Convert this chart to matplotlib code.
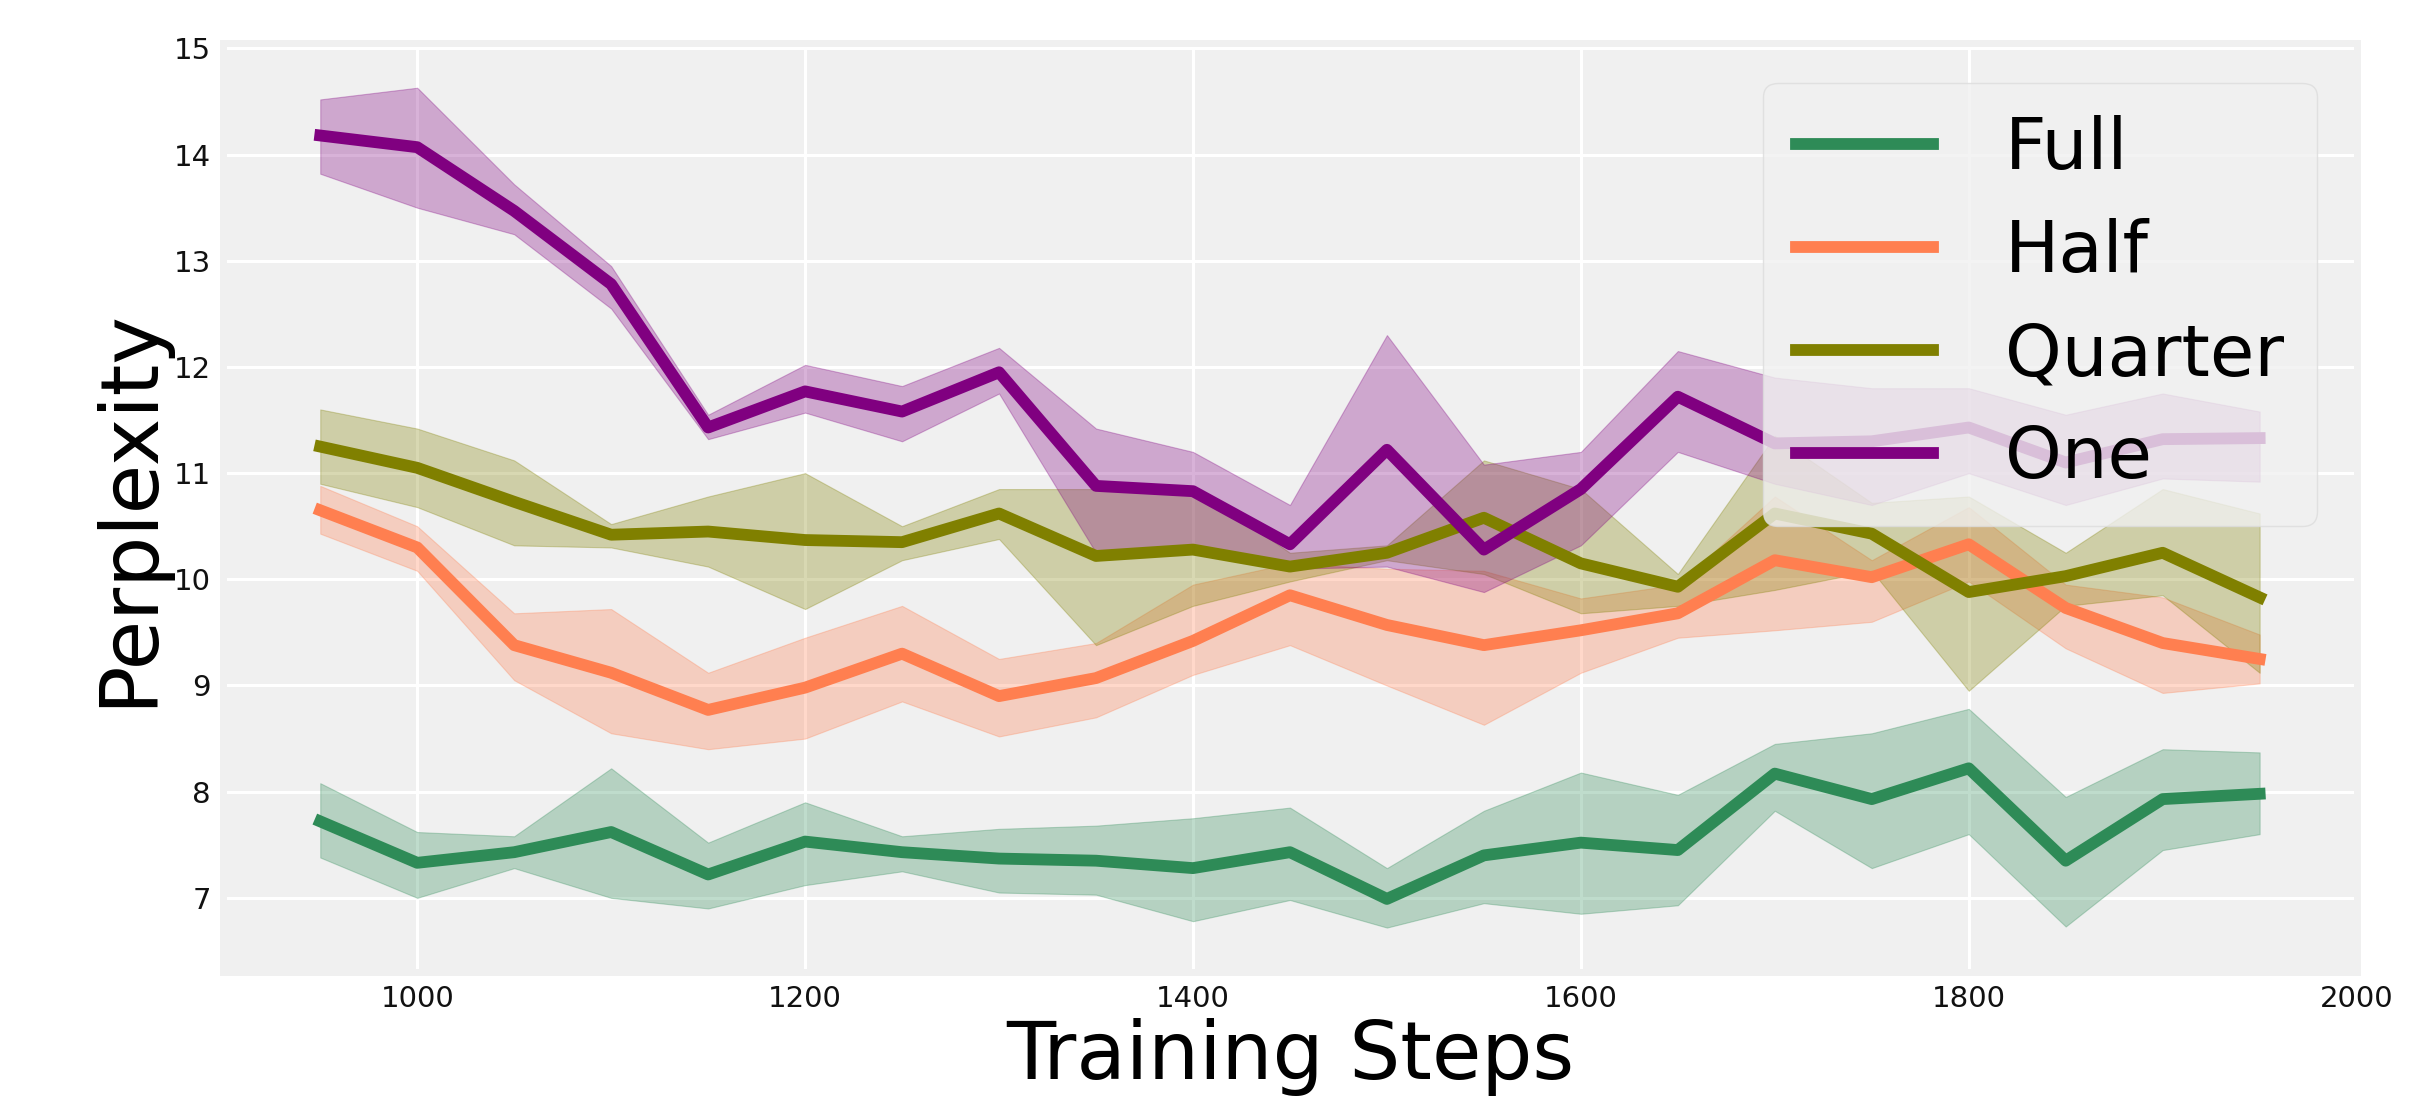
import numpy as np
import matplotlib
matplotlib.use("Agg")
import matplotlib.pyplot as plt

steps = [950, 1000, 1050, 1100, 1150, 1200, 1250, 1300, 1350, 1400, 1450,
         1500, 1550, 1600, 1650, 1700, 1750, 1800, 1850, 1900, 1950]

full_mean = [7.72, 7.33, 7.43, 7.62, 7.22, 7.53, 7.43, 7.37, 7.35, 7.28, 7.43,
             6.99, 7.40, 7.52, 7.45, 8.17, 7.93, 8.22, 7.35, 7.93, 7.98]
full_hi = [8.08, 7.62, 7.58, 8.22, 7.52, 7.90, 7.58, 7.65, 7.68, 7.75, 7.85,
           7.28, 7.82, 8.18, 7.97, 8.45, 8.55, 8.78, 7.95, 8.40, 8.37]
full_lo = [7.38, 7.00, 7.28, 7.00, 6.90, 7.12, 7.25, 7.05, 7.03, 6.78, 6.98,
           6.72, 6.95, 6.85, 6.93, 7.82, 7.28, 7.60, 6.73, 7.45, 7.60]

half_mean = [10.65, 10.30, 9.38, 9.12, 8.77, 8.98, 9.30, 8.90, 9.07, 9.42, 9.85,
             9.57, 9.38, 9.52, 9.68, 10.18, 10.02, 10.33, 9.73, 9.40, 9.25]
half_hi = [10.88, 10.50, 9.68, 9.72, 9.12, 9.45, 9.75, 9.25, 9.40, 9.95, 10.15,
           10.10, 10.08, 9.82, 9.95, 10.78, 10.18, 10.68, 9.95, 9.83, 9.48]
half_lo = [10.43, 10.08, 9.05, 8.55, 8.40, 8.50, 8.85, 8.52, 8.70, 9.10, 9.38,
           9.00, 8.63, 9.12, 9.45, 9.52, 9.60, 9.98, 9.35, 8.93, 9.02]

quarter_mean = [11.25, 11.05, 10.73, 10.42, 10.45, 10.37, 10.35, 10.62, 10.22, 10.28, 10.12,
                10.25, 10.58, 10.15, 9.93, 10.62, 10.43, 9.88, 10.03, 10.25, 9.83]
quarter_hi = [11.60, 11.42, 11.12, 10.52, 10.78, 11.00, 10.50, 10.85, 10.85, 10.88, 10.25,
              10.32, 11.12, 10.85, 10.05, 11.35, 10.72, 10.78, 10.25, 10.85, 10.62]
quarter_lo = [10.90, 10.68, 10.32, 10.30, 10.12, 9.72, 10.18, 10.38, 9.38, 9.75, 9.98,
              10.18, 10.05, 9.68, 9.75, 9.90, 10.08, 8.95, 9.75, 9.85, 9.12]

one_mean = [14.18, 14.07, 13.47, 12.78, 11.43, 11.77, 11.58, 11.95, 10.88, 10.83, 10.33,
            11.22, 10.28, 10.85, 11.72, 11.28, 11.30, 11.43, 11.10, 11.32, 11.33]
one_hi = [14.52, 14.63, 13.72, 12.95, 11.55, 12.02, 11.82, 12.18, 11.42, 11.20, 10.70,
          12.30, 11.08, 11.20, 12.15, 11.90, 11.80, 11.80, 11.55, 11.75, 11.58]
one_lo = [13.82, 13.50, 13.25, 12.55, 11.32, 11.57, 11.30, 11.75, 10.25, 10.28, 10.10,
          10.12, 9.88, 10.32, 11.20, 10.90, 10.70, 11.00, 10.70, 10.95, 10.92]

labels = ["Full", "Half", "Quarter", "One"]
colors = ["#2e8b57", "#ff7f50", "#808000", "#800080"]

series = [(full_mean, full_lo, full_hi),
          (half_mean, half_lo, half_hi),
          (quarter_mean, quarter_lo, quarter_hi),
          (one_mean, one_lo, one_hi)]

fig = plt.figure(figsize=(24.27, 11.06), dpi=100)
fig.patch.set_facecolor("white")
ax = fig.add_axes([0.092, 0.121, 0.879, 0.840])
ax.set_facecolor("#f0f0f0")

for (m, lo, hi), lab, c in zip(series, labels, colors):
    ax.fill_between(steps, lo, hi, color=c, alpha=0.3, linewidth=0.8)
    ax.plot(steps, m, color=c, linewidth=8.5, label=lab)

ax.set_xlim(900, 2000)
ax.set_ylim(6.3, 15.05)
ax.set_xticks([1000, 1200, 1400, 1600, 1800, 2000])
ax.set_yticks([7, 8, 9, 10, 11, 12, 13, 14, 15])
ax.grid(True, color="white", linewidth=2.2)
ax.set_axisbelow(True)
for s in ax.spines.values():
    s.set_color("#f0f0f0")
    s.set_linewidth(5)
ax.tick_params(axis="both", length=0, labelsize=21, pad=9, labelcolor="#111111")

ax.set_xlabel("Training Steps", fontsize=58, labelpad=4)
ax.set_ylabel("Perplexity", fontsize=58, labelpad=4)

leg = ax.legend(loc="upper right", fontsize=52, labelspacing=0.47,
                borderpad=0.45, borderaxespad=0.55,
                facecolor="#f0f0f0", edgecolor="#dcdcdc", framealpha=0.8,
                fancybox=True, handlelength=1.9, handletextpad=1.0)
for h in leg.get_lines():
    h.set_linewidth(8.5)

fig.savefig("out.png", dpi=100, facecolor="white")
